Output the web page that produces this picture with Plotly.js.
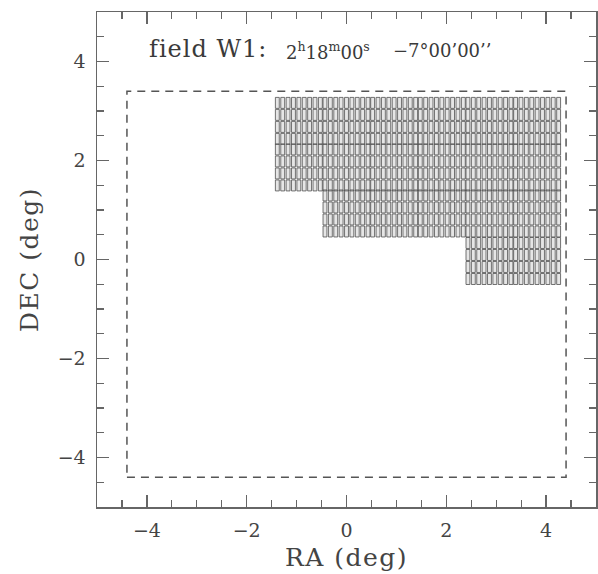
<!DOCTYPE html>
<html>
<head>
<meta charset="utf-8">
<script src="https://cdn.plot.ly/plotly-3.0.1.min.js"></script>
<style>html,body{margin:0;padding:0;background:#fff;}#plot{width:598px;height:574px;}</style>
</head>
<body>
<div id="plot"></div>
<script>
// Field boundary (deg)
var fieldRA = [-4.4, 4.4];
var fieldDEC = [-4.4, 3.4];

// MegaCam pointing centres (RA, DEC offsets in deg)
var rowDEC = [2.80, 1.86, 0.93, -0.03];
var row0RA = [-0.955, 0.0, 0.955, 1.91, 2.865, 3.82];
var row1RA = [-0.955, 0.0, 0.955, 1.91, 2.865, 3.82];
var row2RA = [0.0, 0.955, 1.91, 2.865, 3.82];
var row3RA = [2.865, 3.82];
var rowsRA = [row0RA, row1RA, row2RA, row3RA];

// Camera geometry: 9 x 4 CCDs, footprint ~0.97 deg
var nCCDx = 9, nCCDy = 4;
var foot = 0.97;
var pitchX = foot / nCCDx, pitchY = foot / nCCDy;
var ccdW = 0.078, ccdH = 0.222;

var cx = [], cy = [];
rowsRA.forEach(function (ras, r) {
  ras.forEach(function (ra) {
    var dec = rowDEC[r];
    for (var i = 0; i < nCCDx; i++) {
      for (var j = 0; j < nCCDy; j++) {
        var x0 = ra - foot / 2 + i * pitchX + (pitchX - ccdW) / 2;
        var y0 = dec - foot / 2 + j * pitchY + (pitchY - ccdH) / 2;
        cx.push(x0, x0 + ccdW, x0 + ccdW, x0, x0, null);
        cy.push(y0, y0, y0 + ccdH, y0 + ccdH, y0, null);
      }
    }
  });
});

var ccdTrace = {
  x: cx, y: cy, type: 'scatter', mode: 'lines',
  fill: 'toself', fillcolor: 'rgba(200,200,200,0.45)',
  line: {color: 'rgba(80,80,80,0.8)', width: 1},
  hoverinfo: 'skip', showlegend: false
};

var fieldTrace = {
  x: [fieldRA[0], fieldRA[1], fieldRA[1], fieldRA[0], fieldRA[0]],
  y: [fieldDEC[0], fieldDEC[0], fieldDEC[1], fieldDEC[1], fieldDEC[0]],
  type: 'scatter', mode: 'lines',
  line: {color: '#555', width: 1.5, dash: '8px,6px'},
  hoverinfo: 'skip', showlegend: false
};

var fontFam = '"DejaVu Serif", "Liberation Serif", serif';
var axisCommon = {
  range: [-5, 5], autorange: false,
  showgrid: false, zeroline: false,
  showline: true, linecolor: '#666', linewidth: 1.5, mirror: 'ticks',
  ticks: 'inside', dtick: 2, tick0: 0, ticklen: 12, tickwidth: 1.2, tickcolor: '#666',
  minor: {dtick: 0.5, tick0: 0, ticks: 'inside', ticklen: 7, tickwidth: 1.2, tickcolor: '#666', showgrid: false},
  tickfont: {family: fontFam, size: 19, color: '#444'},
  ticklabelstandoff: 6
};

var layout = {
  width: 598, height: 574,
  margin: {l: 97, r: 2, t: 12, b: 67},
  paper_bgcolor: '#fff', plot_bgcolor: '#fff',
  xaxis: Object.assign({}, axisCommon, {
    title: {text: '<span style="letter-spacing:1.5px">RA (deg)</span>', font: {family: fontFam, size: 25, color: '#444'}, standoff: 8}
  }),
  yaxis: Object.assign({}, axisCommon, {
    title: {text: '<span style="letter-spacing:1.5px">DEC (deg)</span>', font: {family: fontFam, size: 25, color: '#444'}, standoff: 12}
  }),
  annotations: [{
    xref: 'paper', yref: 'paper', x: 0.100, y: 0.925, xanchor: 'left', yanchor: 'middle',
    showarrow: false,
    text: '<span style="letter-spacing:1px">field W1:</span>',
    font: {family: fontFam, size: 24, color: '#3a3a3a'}
  }, {
    xref: 'paper', yref: 'paper', x: 0.374, y: 0.922, xanchor: 'left', yanchor: 'middle',
    showarrow: false,
    text: '2<sup>h</sup>18<sup>m</sup>00<sup>s</sup>',
    font: {family: fontFam, size: 18, color: '#3a3a3a'}
  }, {
    xref: 'paper', yref: 'paper', x: 0.590, y: 0.922, xanchor: 'left', yanchor: 'middle',
    showarrow: false,
    text: '\u22127\u00b000\u201900\u2019\u2019',
    font: {family: fontFam, size: 18, color: '#3a3a3a'}
  }],
  showlegend: false
};

Plotly.newPlot('plot', [ccdTrace, fieldTrace], layout, {staticPlot: true, displayModeBar: false});
</script>
</body>
</html>
